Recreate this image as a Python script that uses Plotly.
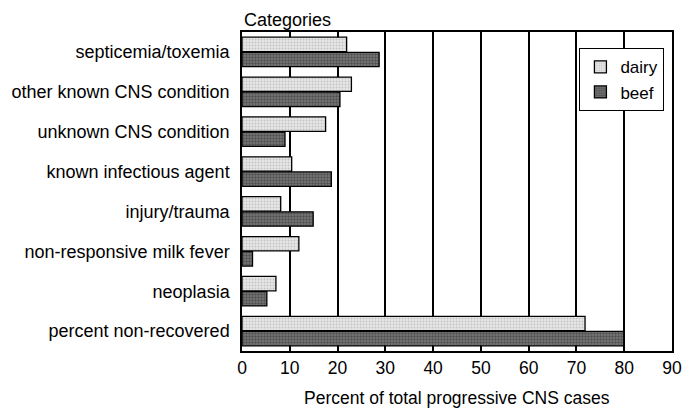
import plotly.graph_objects as go

categories = ["septicemia/toxemia", "other known CNS condition", "unknown CNS condition",
              "known infectious agent", "injury/trauma", "non-responsive milk fever",
              "neoplasia", "percent non-recovered"]
dairy = [21.9, 22.9, 17.5, 10.4, 8.1, 11.9, 7.1, 71.8]
beef = [28.7, 20.5, 9.0, 18.7, 14.9, 2.2, 5.2, 79.9]
x_ticks = [0, 10, 20, 30, 40, 50, 60, 70, 80, 90]

FONT = "Liberation Sans, Arial, sans-serif"

fig = go.Figure()
fig.add_trace(go.Bar(
    y=categories, x=dairy, name="dairy", orientation="h",
    marker=dict(color="#e4e4e4", line=dict(color="black", width=1.3),
                pattern=dict(shape=".", fgcolor="#a0a0a0", bgcolor="#e6e6e6", size=3, solidity=0.3)),
))
fig.add_trace(go.Bar(
    y=categories, x=beef, name="beef", orientation="h",
    marker=dict(color="#555555", line=dict(color="black", width=1.3),
                pattern=dict(shape=".", fgcolor="#262626", bgcolor="#7a7a7a", size=3, solidity=0.5)),
))

fig.update_layout(
    width=692, height=400,
    margin=dict(l=234, r=28, t=24, b=57, autoexpand=False),
    paper_bgcolor="white", plot_bgcolor="white",
    barmode="group", bargap=0.24, bargroupgap=0.05,
    font=dict(family=FONT, size=18, color="black"),
    showlegend=True,
    legend=dict(x=0.784, y=0.95, xanchor="left", yanchor="top",
                bgcolor="white", bordercolor="black", borderwidth=1.3,
                font=dict(size=17), tracegroupgap=0, itemwidth=30),
    annotations=[
        dict(text="Categories", x=0, y=1, xref="paper", yref="paper",
             xanchor="left", yanchor="bottom", yshift=0, showarrow=False,
             font=dict(size=18)),
        dict(text="Percent of total progressive CNS cases", x=0.5, y=0, xref="paper", yref="paper",
             xanchor="center", yanchor="middle", yshift=-47, showarrow=False,
             font=dict(size=17.5)),
    ],
)
fig.update_xaxes(
    range=[0, 90], tickvals=x_ticks, ticktext=[str(v) for v in x_ticks],
    showgrid=True, gridcolor="black", gridwidth=1.5,
    showline=True, linecolor="black", linewidth=1.5, mirror=True,
    ticks="", zeroline=False, tickfont=dict(size=17.5), automargin=False,
)
fig.update_yaxes(
    categoryorder="array", categoryarray=categories, autorange="reversed",
    showline=True, linecolor="black", linewidth=1.5, mirror=True,
    ticks="", showgrid=False, tickfont=dict(size=18), ticklabelstandoff=7,
    automargin=False,
)

fig.write_html("out.html")
